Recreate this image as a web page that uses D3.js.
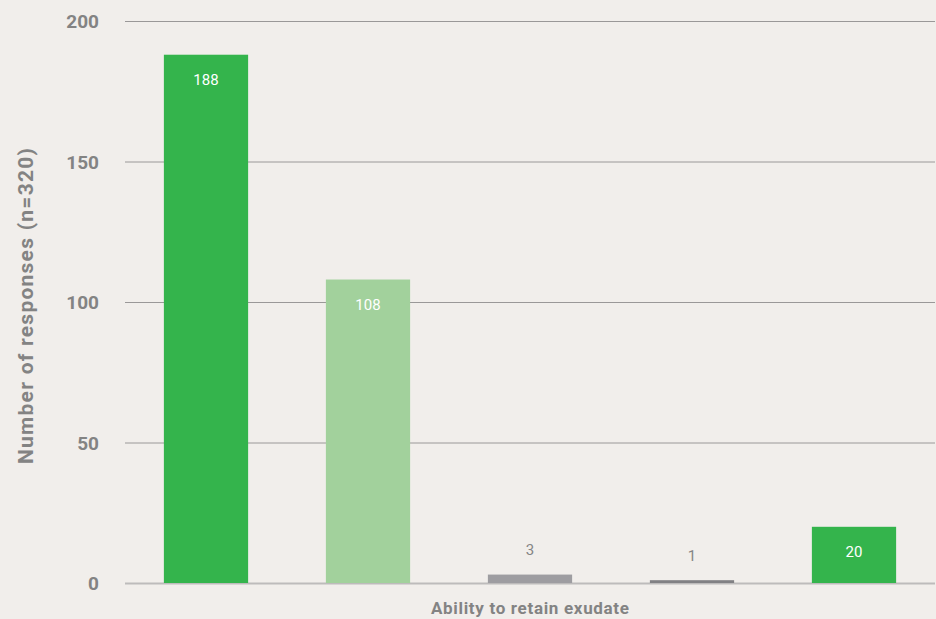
<!DOCTYPE html>
<html>
<head>
<meta charset="utf-8">
<script src="https://cdn.jsdelivr.net/npm/d3@7/dist/d3.min.js"></script>
<style>
  html, body { margin: 0; padding: 0; background: #f1eeeb; }
  svg { display: block; }
</style>
</head>
<body>
<svg id="chart" width="936" height="619"></svg>
<script>
// Responses per answer category
const categories = ["A", "B", "C", "D", "E"];
const values = [188, 108, 3, 1, 20];
const barColors = ["#34b44c", "#a2d19c", "#9e9da1", "#818184", "#34b44c"];
const labelInside = [true, true, false, false, true];
const yTicks = [0, 50, 100, 150, 200];
const yTitle = "Number of responses (n=320)";
const xTitle = "Ability to retain exudate";

const svg = d3.select("#chart");
const margin = { left: 125, right: 1, top: 21, bottom: 36 };
const W = 936, H = 619;

const x = d3.scaleBand()
  .domain(categories)
  .range([margin.left, W - margin.right])
  .paddingInner(0.48)
  .paddingOuter(0.24);

const y = d3.scaleLinear()
  .domain([0, 200])
  .range([H - margin.bottom, margin.top]);

// Horizontal gridlines with tick labels on the left
const yAxis = d3.axisLeft(y)
  .tickValues(yTicks)
  .tickSize(-(W - margin.right - margin.left))
  .tickPadding(26);

const gy = svg.append("g")
  .attr("transform", `translate(${margin.left},0)`)
  .call(yAxis);
gy.select(".domain").remove();
gy.selectAll(".tick line")
  .attr("stroke", (d) => d === 0 ? "#bdbbbb" : "#9a9898")
  .attr("stroke-width", (d) => d === 0 ? 2 : 1);
gy.selectAll(".tick text")
  .attr("fill", "#838383")
  .style("font-family", "Roboto, 'Open Sans', sans-serif")
  .style("font-weight", "700")
  .style("font-size", "19px")
  .attr("dy", "0.36em");

// Bars
svg.append("g")
  .selectAll("rect")
  .data(values)
  .join("rect")
  .attr("x", (d, i) => x(categories[i]))
  .attr("y", (d) => y(d))
  .attr("width", x.bandwidth())
  .attr("height", (d) => y(0) - y(d))
  .attr("fill", (d, i) => barColors[i]);

// Value labels: inside tall bars, above short ones
svg.append("g")
  .selectAll("text")
  .data(values)
  .join("text")
  .attr("x", (d, i) => x(categories[i]) + x.bandwidth() / 2)
  .attr("y", (d, i) => labelInside[i] ? y(d) + 25 : y(d) - 25)
  .attr("dy", "0.36em")
  .attr("text-anchor", "middle")
  .attr("fill", (d, i) => labelInside[i] ? "#ffffff" : "#858585")
  .style("font-family", "Roboto, sans-serif")
  .style("font-size", "15px")
  .text((d) => d);

// Axis titles
svg.append("text")
  .attr("transform", "translate(25,306) rotate(-90)")
  .attr("text-anchor", "middle")
  .attr("dy", "0.36em")
  .attr("fill", "#838383")
  .attr("textLength", 316)
  .attr("lengthAdjust", "spacing")
  .style("font-family", "Roboto, sans-serif")
  .style("font-weight", "700")
  .style("font-size", "21px")
  .text(yTitle);

svg.append("text")
  .attr("x", (margin.left + W - margin.right) / 2)
  .attr("y", 614)
  .attr("text-anchor", "middle")
  .attr("fill", "#838383")
  .attr("textLength", 198)
  .attr("lengthAdjust", "spacing")
  .style("font-family", "Roboto, sans-serif")
  .style("font-weight", "700")
  .style("font-size", "17px")
  .text(xTitle);
</script>
</body>
</html>
